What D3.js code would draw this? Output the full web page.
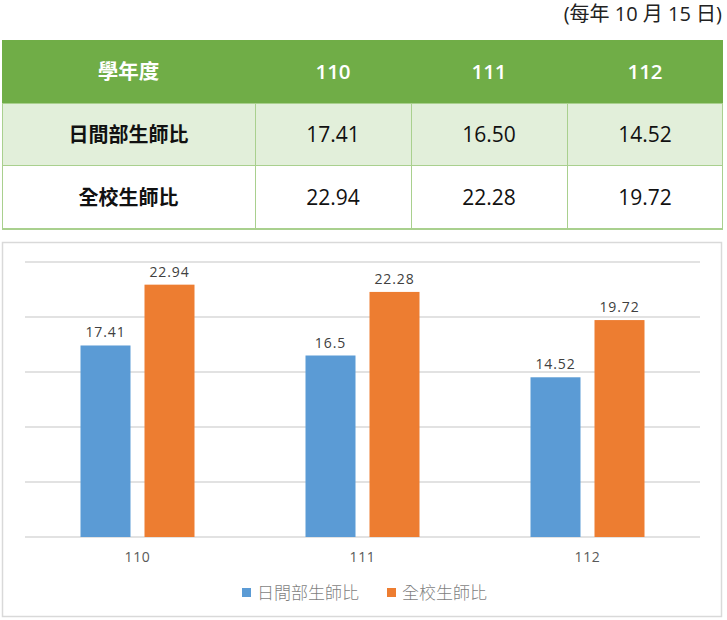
<!DOCTYPE html>
<html><head><meta charset="utf-8">
<script src="https://cdn.jsdelivr.net/npm/d3@7"></script>
<style>
html,body{margin:0;padding:0;background:#fff;}
svg{display:block;}
</style></head>
<body>
<svg id="c" width="727" height="620"></svg>
<script>
const note = "(每年 10 月 15 日)";
const headerLabel = "學年度";
const years = ["110", "111", "112"];
const seriesNames = ["日間部生師比", "全校生師比"];
const dayRatio = [17.41, 16.50, 14.52];
const schoolRatio = [22.94, 22.28, 19.72];
const yTicks = [0, 5, 10, 15, 20, 25];
const colors = ["#5B9BD5", "#ED7D31"];

const svg = d3.select("#c");
const cjk = "'Segoe UI','Open Sans','Noto Sans CJK TC',sans-serif";

// note
svg.append("text").attr("x", 722).attr("y", 21).attr("text-anchor", "end")
  .attr("font-family", cjk).attr("font-size", 20).attr("fill", "#222").text(note);

// table
const colStarts = [2, 255, 411, 567];
const colW = [253, 156, 156, 156];
const rowY = [40, 103, 166];
const rowH = 63;
const tbl = svg.append("g");
const rows = [
  {label: headerLabel, vals: years, fill: "#70AD47", head: true},
  {label: seriesNames[0], vals: dayRatio.map(d => d.toFixed(2)), fill: "#E2EFDA"},
  {label: seriesNames[1], vals: schoolRatio.map(d => d.toFixed(2)), fill: "#FFFFFF"}
];
rows.forEach((r, i) => {
  const y = rowY[i];
  tbl.append("rect").attr("x", 2).attr("y", y).attr("width", 721).attr("height", rowH).attr("fill", r.fill);
  const cells = [r.label, ...r.vals];
  cells.forEach((t, j) => {
    const x0 = colStarts[j];
    if (!r.head && j > 0) {
      tbl.append("line").attr("x1", x0 + 0.5).attr("x2", x0 + 0.5).attr("y1", y).attr("y2", y + rowH)
        .attr("stroke", "#A9D08E").attr("stroke-width", 1);
    }
    const isLabel = (j === 0);
    tbl.append("text").attr("x", x0 + colW[j] / 2).attr("y", y + rowH / 2 + 7)
      .attr("text-anchor", "middle").attr("font-family", cjk)
      .attr("font-size", r.head ? 20.5 : (isLabel ? 20 : 21))
      .attr("font-weight", (r.head || isLabel) ? 600 : "normal")
      .attr("fill", r.head ? "#fff" : "#111").text(t);
  });
  if (!r.head) {
    tbl.append("line").attr("x1", 2).attr("x2", 723).attr("y1", y + rowH - 0.5).attr("y2", y + rowH - 0.5)
      .attr("stroke", "#A9D08E");
  }
});
tbl.append("rect").attr("x", 2.5).attr("y", 103.5).attr("width", 720).attr("height", 126)
  .attr("fill", "none").attr("stroke", "#A9D08E");

// chart box
svg.append("rect").attr("x", 2.5).attr("y", 242.5).attr("width", 719).attr("height", 374)
  .attr("fill", "#fff").attr("stroke", "#D9D9D9").attr("stroke-width", 1.5);

const x0 = d3.scaleBand().domain(years).range([25, 700]);
const x1 = d3.scaleBand().domain(seriesNames).range([0, 114]).paddingInner(14 / 64);
const y = d3.scaleLinear().domain([0, 25]).range([537, 262]);

const g = svg.append("g");
g.selectAll("line.grid").data(yTicks).enter().append("line")
  .attr("x1", 25).attr("x2", 700).attr("y1", d => y(d)).attr("y2", d => y(d))
  .attr("stroke", "#D9D9D9").attr("stroke-width", 1.3);

const data = years.map((yr, i) => ({yr, vals: [dayRatio[i], schoolRatio[i]]}));
const grp = g.selectAll("g.grp").data(data).enter().append("g")
  .attr("transform", d => `translate(${x0(d.yr) + x0.bandwidth() / 2 - 57},0)`);
grp.selectAll("rect").data(d => d.vals.map((v, k) => ({v, k}))).enter().append("rect")
  .attr("x", d => x1(seriesNames[d.k])).attr("width", x1.bandwidth())
  .attr("y", d => y(d.v)).attr("height", d => y(0) - y(d.v)).attr("fill", d => colors[d.k]);
grp.selectAll("text").data(d => d.vals.map((v, k) => ({v, k}))).enter().append("text")
  .attr("x", d => x1(seriesNames[d.k]) + x1.bandwidth() / 2).attr("y", d => y(d.v) - 8)
  .attr("text-anchor", "middle").attr("font-family", cjk).attr("font-size", 14)
  .attr("letter-spacing", 0.9)
  .attr("fill", "#404040").text(d => String(d.v));

const xAxis = g.append("g").attr("transform", "translate(0,537)")
  .call(d3.axisBottom(x0).tickSize(0).tickPadding(15));
xAxis.select(".domain").remove();
xAxis.selectAll("text").attr("font-family", cjk).attr("font-size", 14)
  .attr("letter-spacing", 0.6).attr("fill", "#595959");

// legend
const leg = svg.append("g");
const legX = [242, 387];
seriesNames.forEach((s, i) => {
  leg.append("rect").attr("x", legX[i]).attr("y", 588).attr("width", 9).attr("height", 9).attr("fill", colors[i]);
  leg.append("text").attr("x", legX[i] + 15).attr("y", 598.5).attr("font-family", cjk)
    .attr("font-size", 17).attr("font-weight", 300).attr("fill", "#7F7F7F").text(s);
});
</script>
</body></html>
